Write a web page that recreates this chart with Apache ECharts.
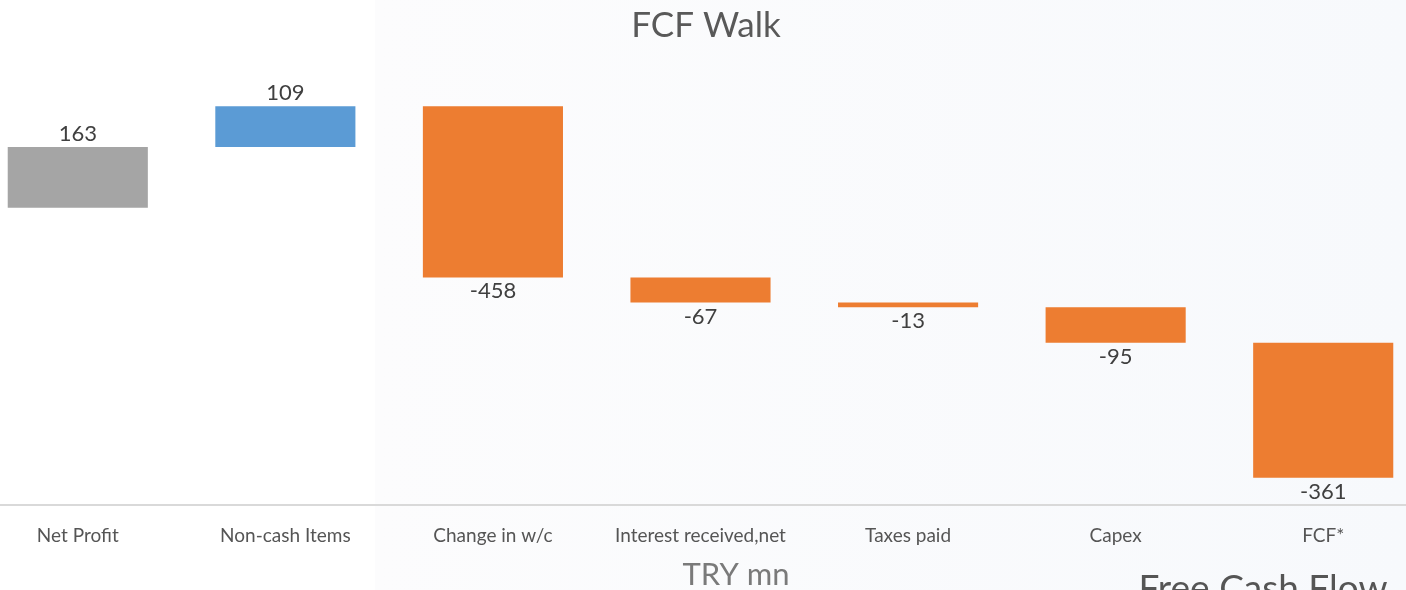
<!DOCTYPE html>
<html>
<head>
<meta charset="utf-8">
<title>FCF Walk</title>
<script src="https://cdn.jsdelivr.net/npm/echarts@6/dist/echarts.min.js"></script>
<style>
  html, body { margin: 0; padding: 0; background: #fff; }
  #chart { width: 1406px; height: 590px; }
</style>
</head>
<body>
<div id="chart"></div>
<script>
// categories and step values of the walk
const categories = ['Net Profit', 'Non-cash Items', 'Change in w/c', 'Interest received,net', 'Taxes paid', 'Capex', 'FCF*']
const values = [163, 109, -458, -67, -13, -95, -361]
const barColors = ['#a5a5a5', '#5b9bd5', '#ed7d31', '#ed7d31', '#ed7d31', '#ed7d31', '#ed7d31']

// running totals -> [start, end] for every step
const walk = []
let run = 0
values.forEach(function (v, i) {
    walk.push([i, run, run + v, v])
    run += v
})

const font = 'Lato, "Noto Sans", sans-serif'

const chart = echarts.init(document.getElementById('chart'))

const option = {
    backgroundColor: '#ffffff',
    animation: false,
    graphic: [{
        type: 'rect',
        z: -10,
        silent: true,
        shape: { x: 375, y: 0, width: 1031, height: 590 },
        style: {
            fill: new echarts.graphic.LinearGradient(0, 0, 1, 0, [
                { offset: 0, color: '#fcfcfd' },
                { offset: 1, color: '#f7f9fc' }
            ])
        }
    }],
    title: [{
        text: 'FCF Walk',
        left: 701,
        top: 3,
        textAlign: 'center',
        textStyle: { fontFamily: font, fontSize: 35, fontWeight: 'normal', color: '#595959' }
    }, {
        text: 'TRY mn',
        left: 731,
        top: 554,
        textAlign: 'center',
        textStyle: { fontFamily: font, fontSize: 31, fontWeight: 'normal', color: '#7a7a7a' }
    }, {
        text: 'Free Cash Flow',
        left: 1258,
        top: 566,
        textAlign: 'center',
        textStyle: { fontFamily: font, fontSize: 37, fontWeight: 'normal', color: '#555555' }
    }],
    grid: {
        left: -26,
        right: -21,
        top: 95,
        bottom: 85,
        containLabel: false,
        outerBoundsMode: 'none'
    },
    xAxis: {
        type: 'category',
        data: categories,
        axisLine: { onZero: false, lineStyle: { color: '#d9d9d9', width: 2 } },
        axisTick: { show: false },
        axisLabel: {
            interval: 0,
            margin: 21,
            fontFamily: font,
            fontSize: 19,
            color: '#555555'
        }
    },
    yAxis: {
        type: 'value',
        min: -795,
        max: 302,
        show: false,
        splitLine: { show: false }
    },
    series: [{
        type: 'custom',
        data: walk,
        encode: { x: 0, y: [1, 2] },
        renderItem: function (params, api) {
            const i = api.value(0)
            const a = api.coord([i, api.value(1)])
            const b = api.coord([i, api.value(2)])
            const v = api.value(3)
            const w = api.size([1, 0])[0] * 0.675
            const top = Math.min(a[1], b[1])
            const bottom = Math.max(a[1], b[1])
            return {
                type: 'group',
                children: [{
                    type: 'rect',
                    shape: { x: a[0] - w / 2, y: top, width: w, height: bottom - top },
                    style: { fill: barColors[i] }
                }, {
                    type: 'text',
                    style: {
                        x: a[0],
                        y: v >= 0 ? top - 13 : bottom + 14,
                        text: String(v),
                        textAlign: 'center',
                        textVerticalAlign: 'middle',
                        font: '22px ' + font,
                        fill: '#404040'
                    }
                }]
            }
        }
    }]
}

chart.setOption(option)
</script>
</body>
</html>
